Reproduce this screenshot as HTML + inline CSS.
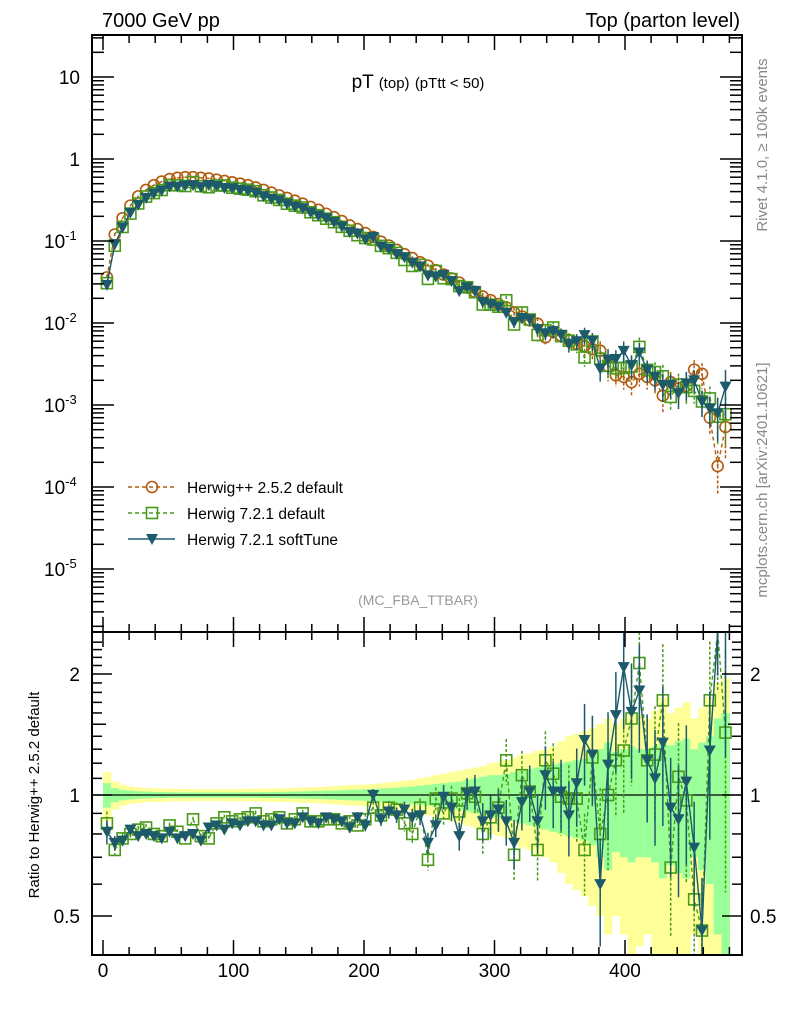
<!DOCTYPE html>
<html><head><meta charset="utf-8"><style>
body{margin:0;background:#fff}
svg{display:block;font-family:"Liberation Sans",sans-serif}
</style></head><body>
<svg id="c" width="786" height="1024" viewBox="0 0 786 1024">
<text x="102" y="27" font-size="20">7000 GeV pp</text>
<text x="740" y="27" font-size="20" text-anchor="end">Top (parton level)</text>
<text x="418" y="88" font-size="19" text-anchor="middle">pT <tspan font-size="15">(top)</tspan> <tspan font-size="15">(pTtt &lt; 50)</tspan></text>
<text x="418" y="605" font-size="14" fill="#999" text-anchor="middle">(MC_FBA_TTBAR)</text>
<text transform="translate(767,145) rotate(-90)" font-size="15" fill="#888" text-anchor="middle">Rivet 4.1.0, ≥ 100k events</text>
<text transform="translate(767,480) rotate(-90)" font-size="15" fill="#888" text-anchor="middle">mcplots.cern.ch [arXiv:2401.10621]</text>
<text transform="translate(39,795) rotate(-90)" font-size="15" text-anchor="middle">Ratio to Herwig++ 2.5.2 default</text>
<g id="bands"></g><g id="grid"></g><g id="series"></g><g id="axes"></g><g id="legend"></g>
</svg>
<script>
const binCenters=[3,9,15,21,27,33,39,45,51,57,63,69,75,81,87,93,99,105,111,117,123,129,135,141,147,153,159,165,171,177,183,189,195,201,207,213,219,225,231,237,243,249,255,261,267,273,279,285,291,297,303,309,315,321,327,333,339,345,351,357,363,369,375,381,387,393,399,405,411,417,423,429,435,441,447,453,459,465,471,477];
const herwigpp=[0.036,0.12,0.19,0.27,0.35,0.42,0.48,0.53,0.57,0.59,0.60,0.60,0.59,0.58,0.56,0.54,0.52,0.50,0.48,0.45,0.42,0.39,0.36,0.335,0.31,0.285,0.26,0.24,0.215,0.195,0.175,0.155,0.14,0.125,0.112,0.098,0.088,0.078,0.069,0.062,0.055,0.05,0.044,0.039,0.035,0.031,0.027,0.024,0.021,0.019,0.017,0.0155,0.0135,0.012,0.0108,0.0098,0.0067,0.0078,0.007,0.0062,0.0056,0.0052,0.0048,0.0046,0.0030,0.0023,0.0022,0.0019,0.0024,0.0022,0.0020,0.0013,0.0019,0.0016,0.0017,0.0027,0.0024,0.0007,0.00018,0.00054];
const ratioDefault=[0.85,0.73,0.78,0.8,0.82,0.83,0.8,0.79,0.84,0.81,0.78,0.87,0.79,0.78,0.85,0.88,0.86,0.87,0.88,0.9,0.86,0.87,0.88,0.85,0.87,0.9,0.86,0.86,0.87,0.87,0.85,0.86,0.84,0.87,0.93,0.89,0.93,0.92,0.85,0.8,0.93,0.69,0.98,0.9,0.98,0.91,1.01,0.99,0.8,0.88,0.93,1.22,0.71,1.12,1.02,0.73,1.22,1.13,0.99,0.98,0.98,0.73,1.24,0.8,1.0,1.22,1.29,1.55,2.13,1.22,1.26,1.72,0.66,1.11,0.97,0.55,0.46,1.72,4.0,1.43];
const ratioSoft=[0.81,0.76,0.77,0.82,0.79,0.8,0.79,0.78,0.81,0.78,0.79,0.80,0.77,0.83,0.84,0.82,0.85,0.84,0.86,0.86,0.84,0.84,0.87,0.85,0.85,0.88,0.86,0.85,0.88,0.87,0.86,0.83,0.88,0.84,1.0,0.87,0.91,0.89,0.92,0.88,0.89,0.76,0.84,0.99,0.93,0.79,1.01,1.02,0.86,0.89,0.92,0.86,0.76,0.96,1.02,0.86,1.12,1.02,1.02,0.89,1.07,1.37,1.26,0.6,1.19,1.58,2.08,1.61,1.82,1.22,1.10,1.35,0.93,0.87,1.08,0.74,0.46,1.29,4.4,3.1];
const bandYellow=[0.14,0.08,0.06,0.05,0.045,0.04,0.04,0.038,0.036,0.035,0.035,0.034,0.034,0.034,0.034,0.034,0.035,0.035,0.036,0.036,0.037,0.038,0.039,0.04,0.042,0.044,0.045,0.047,0.05,0.052,0.055,0.058,0.06,0.062,0.065,0.07,0.075,0.08,0.085,0.09,0.1,0.11,0.12,0.13,0.14,0.15,0.16,0.17,0.18,0.2,0.21,0.22,0.24,0.26,0.27,0.29,0.3,0.32,0.36,0.4,0.42,0.44,0.47,0.5,0.55,0.5,0.55,0.6,0.58,0.55,0.62,0.75,0.6,0.65,0.7,0.55,0.65,0.75,0.9,0.95];
const bandGreen=[0.07,0.04,0.03,0.025,0.022,0.02,0.018,0.017,0.016,0.015,0.015,0.015,0.015,0.015,0.015,0.015,0.015,0.015,0.016,0.016,0.017,0.017,0.018,0.019,0.02,0.021,0.022,0.023,0.025,0.026,0.028,0.03,0.031,0.033,0.035,0.038,0.04,0.043,0.046,0.05,0.055,0.06,0.065,0.07,0.075,0.08,0.09,0.1,0.11,0.12,0.12,0.13,0.14,0.15,0.16,0.17,0.18,0.19,0.2,0.21,0.22,0.23,0.25,0.3,0.35,0.28,0.3,0.32,0.3,0.3,0.32,0.38,0.33,0.36,0.38,0.3,0.35,0.4,0.55,0.6];
const mainTickLabels=["10","1","10","10","10","10","10"];
const mainTickExps=["","","-1","-2","-3","-4","-5"];
const ratioTickLabels=["2","1","0.5"];
const xTickLabels=["0","100","200","300","400"];

const NS="http://www.w3.org/2000/svg";
const X=v=>103+v*1.305;
const Y=v=>159-82*Math.log10(v);
const R=r=>795-121*Math.log2(r);
const clampR=y=>Math.max(632,Math.min(955,y));
function mk(tag,attrs,parent){const e=document.createElementNS(NS,tag);for(const k in attrs)e.setAttribute(k,attrs[k]);document.getElementById(parent).appendChild(e);return e;}

binCenters.forEach((c,i)=>{
  const x0=X(c-3),x1=X(c+3);
  let yt=clampR(R(1+bandYellow[i])),yb=clampR(R(Math.max(0.01,1-bandYellow[i])));
  let e=mk('rect',{x:x0,y:yt,width:x1-x0+0.5,height:yb-yt,fill:'#ffff99'},'bands');
  
  
  yt=clampR(R(1+bandGreen[i]));yb=clampR(R(Math.max(0.01,1-bandGreen[i])));
  e=mk('rect',{x:x0,y:yt,width:x1-x0+0.5,height:yb-yt,fill:'#99ff99'},'bands');
  
  
});
let ref=mk('line',{x1:92,x2:742,y1:795,y2:795,stroke:'#000','stroke-width':1.3},'grid');



const cols={pp:'#b35a0e',def:'#4a9a1a',soft:'#1d5a6a'};
function marker(kind,x,y,col,parent){
  let e;
  if(kind==='circle')e=mk('circle',{cx:x,cy:y,r:5.5,fill:'none',stroke:col,'stroke-width':1.6},parent);
  else if(kind==='square')e=mk('rect',{x:x-5.5,y:y-5.5,width:11,height:11,fill:'none',stroke:col,'stroke-width':1.6},parent);
  else e=mk('path',{d:`M${x-6},${y-5}L${x+6},${y-5}L${x},${y+6}Z`,fill:col},parent);
  return e;
}
function drawSeries(name,vals,kind,col,dash,errs,inRatio){
  const pts=[];
  const lo=inRatio?[632,955]:[35,632];
  const cy=v=>Math.max(lo[0],Math.min(lo[1],v));
  vals.forEach((v,i)=>{
    const x=X(binCenters[i]);
    let y,yu,yd;
    if(inRatio){y=R(v);yu=R(v*(1+errs[i]));yd=R(Math.max(0.01,v*(1-errs[i])));}
    else{y=Y(v);yu=Y(v*(1+errs[i]));yd=Y(Math.max(1e-9,v*(1-errs[i])));}
    pts.push([x,y]);
    let eb=mk('line',{x1:x,x2:x,y1:cy(yu),y2:cy(yd),stroke:col,'stroke-width':1.5,'stroke-dasharray':dash?'3,2':'none'},'series');
    
    
    if(y>=lo[0]&&y<=lo[1]){
      const m=marker(kind,x,y,col,'series');
      
      
    }
  });
  let d='';pts.forEach((p,i)=>{d+=(i?'L':'M')+p[0].toFixed(1)+','+cy(p[1]).toFixed(1);});
  const l=mk('path',{d:d,fill:'none',stroke:col,'stroke-width':1.4,'stroke-dasharray':dash?'4,3':'none'},'series');
  
  
}
const mainDef=herwigpp.map((v,i)=>v*ratioDefault[i]);
const mainSoft=herwigpp.map((v,i)=>v*ratioSoft[i]);
drawSeries('herwigpp-252',herwigpp,'circle',cols.pp,true,bandGreen,false);
drawSeries('herwig-721-default',mainDef,'square',cols.def,true,bandGreen,false);
drawSeries('herwig-721-softtune',mainSoft,'tri',cols.soft,false,bandGreen,false);
drawSeries('ratio-herwig-721-default',ratioDefault,'square',cols.def,true,bandGreen,true);
drawSeries('ratio-herwig-721-softtune',ratioSoft,'tri',cols.soft,false,bandGreen,true);

let f=mk('rect',{x:92,y:35,width:650,height:920,fill:'none',stroke:'#000','stroke-width':2},'axes');


f=mk('line',{x1:92,x2:742,y1:632,y2:632,stroke:'#000','stroke-width':2},'axes');


function tk(x1,y1,x2,y2){mk('line',{x1,y1,x2,y2,stroke:'#000','stroke-width':1.5},'axes');}
for(let d=-6;d<=1;d++){for(let k=1;k<=9;k++){const v=k*Math.pow(10,d);const y=Y(v);if(y<35||y>632)continue;const L=k===1?22:12;tk(92,y,92+L,y);tk(742,y,742-L,y);}}
for(let i=0;i<mainTickLabels.length;i++){
  const y=Y(Math.pow(10,1-i));
  const t=mk('text',{x:80,y:y+7,'font-size':19,'text-anchor':'end'},'axes');
  
  
  if(mainTickExps[i]){t.textContent=mainTickLabels[i];const s=document.createElementNS(NS,'tspan');s.setAttribute('dy',-8);s.setAttribute('font-size',13);s.textContent=mainTickExps[i];t.appendChild(s);t.setAttribute('text-anchor','start');t.setAttribute('x',44);}
  else t.textContent=mainTickLabels[i];
}
for(let r=0.4;r<=2.45;r+=0.1){const y=R(r);if(y<632||y>955)continue;const rr=Math.round(r*10)/10;const L=(rr===1||rr===2||rr===0.5)?20:(rr===1.5?14:10);tk(92,y,92+L,y);tk(742,y,742-L,y);}
const ratioVals=[2,1,0.5];
ratioTickLabels.forEach((s,i)=>{
  const y=R(ratioVals[i]);
  let t=mk('text',{x:80,y:y+7,'font-size':19,'text-anchor':'end'},'axes');t.textContent=s;
  
  
  t=mk('text',{x:750,y:y+7,'font-size':19},'axes');t.textContent=s;
  
  
});
for(let v=0;v<=480;v+=20){const x=X(v);const L=v%100===0?15:8;[35,632].forEach(y=>tk(x,y,x,y+L));[632,955].forEach(y=>tk(x,y,x,y-L));}
xTickLabels.forEach(s=>{const t=mk('text',{x:X(+s),y:977,'font-size':19,'text-anchor':'middle'},'axes');t.textContent=s;
  
  });
const leg=[['Herwig++ 2.5.2 default','circle',cols.pp,true],['Herwig 7.2.1 default','square',cols.def,true],['Herwig 7.2.1 softTune','tri',cols.soft,false]];
leg.forEach((l,i)=>{
  const y=487+i*26;
  const ln=mk('line',{x1:128,x2:175,y1:y,y2:y,stroke:l[2],'stroke-width':1.4,'stroke-dasharray':l[3]?'4,3':'none'},'legend');
  
  
  const m=marker(l[1],152,y,l[2],'legend');
  
  
  const t=mk('text',{x:187,y:y+6,'font-size':15.5},'legend');t.textContent=l[0];
  
  
});
</script>
</body></html>
